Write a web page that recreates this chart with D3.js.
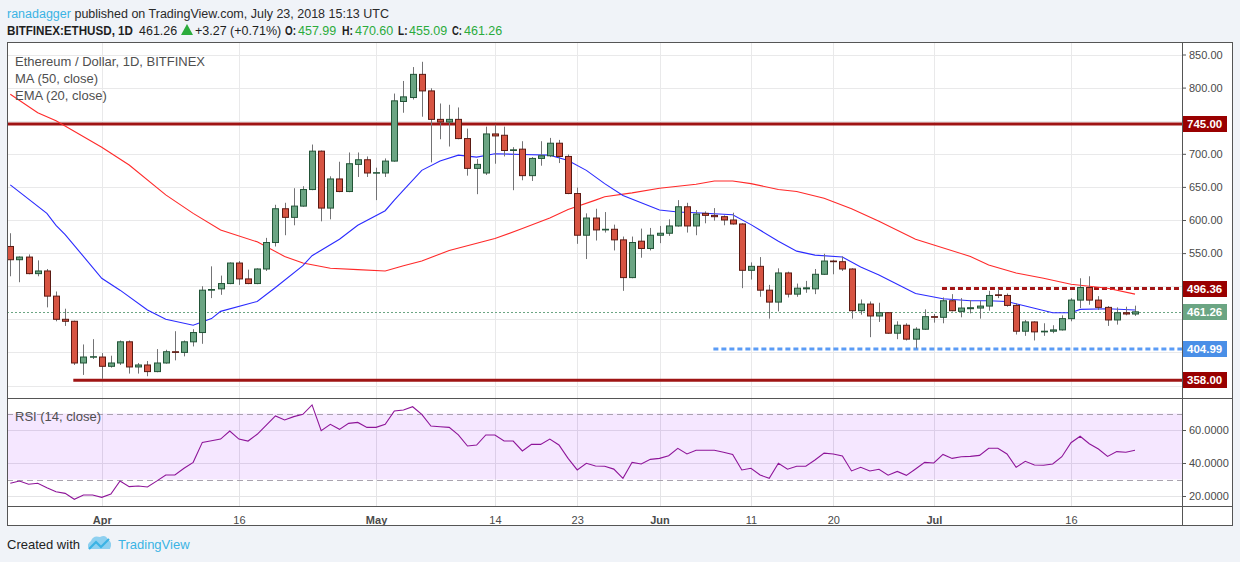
<!DOCTYPE html>
<html>
<head>
<meta charset="utf-8">
<script src="https://cdn.jsdelivr.net/npm/d3@7"></script>
<style>
body { margin: 0; background: #f0f3f8; }
svg { display: block; font-family: "Liberation Sans", Arial, sans-serif; }
</style>
</head>
<body>
<svg id="chart" width="1240" height="562"></svg>
<script>
// daily candles, BITFINEX:ETHUSD, Mar 22 - Jul 23 2018
var opens = [560,540,544,519,523,485,450,447,384,393,
  393,379,384,416,378,381,371,384,401,400,
  416,430,494,496,504,535,511,504,526,566,
  617,604,621,646,704,618,662,643,684,691,
  671,671,689,779,785,820,795,752,748,752,
  723,678,671,730,728,705,707,667,693,697,
  716,696,640,577,603,585,586,570,513,568,
  557,577,580,591,620,591,610,607,605,600,
  594,524,530,494,476,520,488,496,496,518,
  538,537,526,463,473,455,460,429,441,420,
  435,454,453,478,462,466,467,470,487,486,
  471,432,446,431,432,434,451,479,498,479,
  468,449,460,457.99];
var highs = [580,545,548,539,526,492,466,448,412,420,
  399,395,418,418,384,387,405,404,432,418,
  435,500,530,516,536,538,525,527,573,623,
  626,648,651,714,705,666,688,702,702,696,
  679,693,791,810,831,839,799,776,774,770,
  738,692,741,744,741,710,719,695,719,724,
  721,699,649,610,617,612,593,575,575,587,
  588,591,601,630,626,615,613,618,607,611,
  595,536,544,502,527,522,504,508,526,549,
  540,545,527,480,477,475,461,447,444,438,
  465,458,483,488,482,479,478,493,496,489,
  474,449,447,444,441,456,482,512,515,485,
  470,468,469,470.60];
var lows = [515,506,518,515,468,447,440,381,366,390,
  360,377,381,368,368,364,370,383,388,394,
  409,413,482,487,503,502,503,503,523,560,
  577,592,620,645,598,601,642,642,665,665,
  630,665,688,762,782,756,687,722,711,722,
  667,639,668,685,696,645,660,659,682,695,
  686,639,564,541,569,581,554,493,512,543,
  554,565,576,590,581,577,595,599,592,593,
  497,510,484,451,462,483,484,490,488,517,
  518,523,451,457,423,446,428,420,418,406,
  434,445,444,462,453,459,451,463,482,469,
  427,425,418,425,429,433,447,467,472,464,
  440,442,456,455.09];
var closes = [540,544,519,523,485,450,447,384,393,393.5,
  379,384,416,378,381,371,384,401,400,416,
  430,494,495,504,535,511,504,526,566,617,
  604,621,646,704,618,662,643,685,691,671,
  671.5,689,780,786,820,795,752,748,752,723,
  678,684,730,727,705,706,667,693,697,716,
  696,640,577,603,585,586,570,513,566,557,
  577,580,591,620,591,609,607,605,600,594,
  524,530,494,476,520,488,497,497.5,518,538,
  537,526,463,473,455,460,429,441,420,435,
  454,453,478,463,467,467.5,470,486,486,471,
  432,446,431,432,434,451,479,498,479,468,
  449,460,458,461.26];

// RSI(14) per candle
var rsi = [27.7,29.1,27.1,27.7,25,22.6,21.6,18,20.6,20.6,
  19.2,21.2,29.1,25.7,26.1,25.5,29,32.7,32.7,36.8,
  40.4,52.5,53.5,54.5,59.4,54.5,53.3,57.4,63,68.5,
  66.1,68.1,69.5,75.2,59.6,63.4,60.4,64,64.6,61.6,
  61.6,63.4,71.5,72.1,74.1,69.5,62.4,62,61.6,57,
  50.3,50.9,57,57,53.3,53.3,47.3,51.3,51.3,54.5,
  50.9,42.8,35.8,39.8,38.2,38,36.3,30.7,40.4,39.4,
  42.2,42.8,44.4,48.9,45.5,47.7,47.7,47.7,46.5,45.2,
  35.8,36.8,32.7,30.7,39.8,36.2,38,38,41.8,46,
  45.5,44.2,35.2,37.4,35.2,36.2,32.6,34.9,32.5,36.4,
  40.4,40,45.2,42.8,43.8,44,44.6,48.9,48.9,45.5,
  37.4,41,38.8,38.6,39.4,43.8,52.3,56.2,51.7,48.5,
  44,46.9,46.5,47.7];

// moving averages: [candle number, value]
var ma50 = [[1,790],[4,762],[6,750],[11,710],[14,683],[18,638],[21,610],[24,585],
  [28,567],[31,545],[33,535],[36,527],[39,525],[42,523],[44,531],[46,538],[49,554],
  [54,572],[57,587],[60,603],[62,616],[65,630],[66,635],[69,641],[72,648],[76,654],
  [78,659],[80,659],[82,655],[85,646],[87,643],[90,633],[93,617],[96,598],[100,571],
  [106,545],[108,532],[111,520],[114,512],[117,503],[121,497],[124,488]];
var ema20 = [[1,653],[5,610],[6,592],[7,578],[11,512],[13,494],[16,464],[18,450],
  [21,441],[23,451],[24,462],[28,477],[30,498],[33,531],[34,546],[37,571],[39,592],
  [42,614],[43,630],[44,645],[46,675],[48,689],[50,698],[52,695],[54,700],[57,699],
  [60,698],[62,690],[64,675],[66,655],[68,637],[72,615],[74,612],[76,611],[80,608],
  [82,593],[85,568],[87,553],[89,547],[92,544],[94,529],[96,517],[98,503],[100,489],
  [103,481],[106,478],[108,478],[110,477],[112,470],[115,460],[117,460],[118,465],
  [121,466],[124,464]];

// drawn levels: price and the candle number they start from (0 = whole width)
var solidLevels = [745, 358];
var solidStart = [0, 8];
var dashedLevels = [496.36, 404.99];
var dashedStart = [103, 78];
var lastPrice = 461.26;

var tickDays = ["2018-04-01","2018-04-16","2018-05-01","2018-05-14","2018-05-23",
  "2018-06-01","2018-06-11","2018-06-20","2018-07-01","2018-07-16"];
var tickNames = ["Apr","16","May","14","23","Jun","11","20","Jul","16"];
var priceTicks = d3.range(350, 851, 50);
var rsiTicks = [20, 40, 60];

var days = d3.utcDay.range(new Date(Date.UTC(2018,2,22)), new Date(Date.UTC(2018,6,24)));
var candles = days.map(function(d, i) {
  return {date: d, o: opens[i], h: highs[i], l: lows[i], c: closes[i]};
});

var L = 7, R = 1182, T = 42, MB = 398, RT = 399, RB = 506;

var svg = d3.select("#chart");

svg.append("rect").attr("x", L).attr("y", T).attr("width", 1233 - L).attr("height", 525 - T)
  .attr("fill", "#fff");

var x = d3.scaleUtc().domain([days[0], days[days.length - 1]]).range([10.3, 1135]);
var y = d3.scaleLinear().domain([350, 850]).range([385.5, 54.5]);
var yr = d3.scaleLinear().domain([20, 60]).range([496, 430]);

var defs = svg.append("defs");
defs.append("clipPath").attr("id", "mainClip").append("rect")
  .attr("x", L).attr("y", T).attr("width", R - L).attr("height", MB - T);
defs.append("clipPath").attr("id", "rsiClip").append("rect")
  .attr("x", L).attr("y", RT).attr("width", R - L).attr("height", RB - RT);

var main = svg.append("g").attr("clip-path", "url(#mainClip)");
var low = svg.append("g").attr("clip-path", "url(#rsiClip)");

var tickDates = tickDays.map(function(s) { return new Date(s + "T00:00:00Z"); });

// grid
main.selectAll(".hg").data(priceTicks).enter().append("line")
  .attr("x1", L).attr("x2", R)
  .attr("y1", function(d) { return Math.round(y(d)) + 0.5; })
  .attr("y2", function(d) { return Math.round(y(d)) + 0.5; })
  .attr("stroke", "#e9e9ea");
main.selectAll(".vg").data(tickDates).enter().append("line")
  .attr("x1", function(d) { return Math.round(x(d)) + 0.5; })
  .attr("x2", function(d) { return Math.round(x(d)) + 0.5; })
  .attr("y1", T).attr("y2", MB).attr("stroke", "#e9e9ea");
low.selectAll(".hg").data(rsiTicks).enter().append("line")
  .attr("x1", L).attr("x2", R)
  .attr("y1", function(d) { return Math.round(yr(d)) + 0.5; })
  .attr("y2", function(d) { return Math.round(yr(d)) + 0.5; })
  .attr("stroke", "#e4e4e6");
low.selectAll(".vg").data(tickDates).enter().append("line")
  .attr("x1", function(d) { return Math.round(x(d)) + 0.5; })
  .attr("x2", function(d) { return Math.round(x(d)) + 0.5; })
  .attr("y1", RT).attr("y2", RB).attr("stroke", "#e4e4e6");

// support / resistance
solidLevels.forEach(function(p, i) {
  var x0 = solidStart[i] ? x(days[solidStart[i] - 1]) - 1 : L;
  main.append("line").attr("x1", x0).attr("x2", R)
    .attr("y1", y(p)).attr("y2", y(p))
    .attr("stroke", "#9f1414").attr("stroke-width", 3);
});
dashedLevels.forEach(function(p, i) {
  var x0 = x(days[dashedStart[i] - 1]) - 1;
  main.append("line").attr("x1", x0).attr("x2", R)
    .attr("y1", y(p)).attr("y2", y(p))
    .attr("stroke", i === 0 ? "#a31515" : "#5b9cf6")
    .attr("stroke-width", 3).attr("stroke-dasharray", "5,3");
});
main.append("line").attr("x1", L).attr("x2", R)
  .attr("y1", Math.round(y(lastPrice)) + 0.5).attr("y2", Math.round(y(lastPrice)) + 0.5)
  .attr("stroke", "#6ba583").attr("stroke-dasharray", "2,2");

// moving averages
var avgLine = d3.line()
  .x(function(p) { return x(days[p[0] - 1]); })
  .y(function(p) { return y(p[1]); });
main.append("path").datum(ma50).attr("d", avgLine)
  .attr("fill", "none").attr("stroke", "#ff2a2a").attr("stroke-width", 1.1);
main.append("path").datum(ema20).attr("d", avgLine)
  .attr("fill", "none").attr("stroke", "#2b2bff").attr("stroke-width", 1.1);

// candles
var cg = main.selectAll(".candle").data(candles).enter().append("g");
cg.append("line")
  .attr("x1", function(d) { return Math.round(x(d.date)) + 0.5; })
  .attr("x2", function(d) { return Math.round(x(d.date)) + 0.5; })
  .attr("y1", function(d) { return y(d.h); })
  .attr("y2", function(d) { return y(d.l); })
  .attr("stroke", "#737375");
cg.append("rect")
  .attr("x", function(d) { return Math.round(x(d.date)) - 2.5; })
  .attr("width", 6)
  .attr("y", function(d) { return y(Math.max(d.o, d.c)); })
  .attr("height", function(d) { return Math.max(0.5, Math.abs(y(d.o) - y(d.c))); })
  .attr("fill", function(d) { return d.c >= d.o ? "#6ba583" : "#d75442"; })
  .attr("stroke", function(d) { return d.c >= d.o ? "#225437" : "#5b1a13"; });

// RSI pane
low.append("rect").attr("x", L).attr("width", R - L)
  .attr("y", yr(70)).attr("height", yr(30) - yr(70))
  .attr("fill", "rgba(153,21,255,0.1)");
[70, 30].forEach(function(v) {
  low.append("line").attr("x1", L).attr("x2", R)
    .attr("y1", Math.round(yr(v)) + 0.5).attr("y2", Math.round(yr(v)) + 0.5)
    .attr("stroke", "#a9a3ae").attr("stroke-dasharray", "6,4");
});
low.append("path").datum(candles)
  .attr("d", d3.line()
    .x(function(d) { return x(d.date); })
    .y(function(d, i) { return yr(rsi[i]); }))
  .attr("fill", "none").attr("stroke", "#8e1599").attr("stroke-width", 1.1);

// price labels on the axis
var tags = [
  {p: solidLevels[0], fill: "#990000"},
  {p: dashedLevels[0], fill: "#990000"},
  {p: lastPrice, fill: "#6ba583"},
  {p: dashedLevels[1], fill: "#4a8fe7"},
  {p: solidLevels[1], fill: "#990000"}
];

// price axis: ticks hidden behind a tag are left out, as on the picture
var shownTicks = priceTicks.filter(function(v) {
  return tags.every(function(t) { return Math.abs(y(v) - y(t.p)) > 11; });
});
var pa = svg.append("g").attr("transform", "translate(" + R + ",0)")
  .call(d3.axisRight(y).tickValues(shownTicks).tickFormat(d3.format(".2f")).tickSize(4).tickPadding(3));
pa.select(".domain").remove();
pa.selectAll("line").attr("stroke", "#555");
pa.selectAll("text").attr("fill", "#4a4a4a").style("font-size", "11px")
  .style("font-family", "'Liberation Sans', Arial, sans-serif");

var ra = svg.append("g").attr("transform", "translate(" + R + ",0)")
  .call(d3.axisRight(yr).tickValues(rsiTicks).tickFormat(d3.format(".4f")).tickSize(4).tickPadding(3));
ra.select(".domain").remove();
ra.selectAll("line").attr("stroke", "#555");
ra.selectAll("text").attr("fill", "#4a4a4a").style("font-size", "11px")
  .style("font-family", "'Liberation Sans', Arial, sans-serif");

tags.forEach(function(t) {
  var yy = Math.round(y(t.p));
  svg.append("rect").attr("x", R).attr("y", yy - 8).attr("width", 45).attr("height", 16)
    .attr("fill", t.fill);
  svg.append("text").attr("x", R + 5).attr("y", yy + 4)
    .attr("fill", "#fff").attr("font-size", 11.5).attr("font-weight", "bold")
    .text(d3.format(".2f")(t.p));
});

// time axis
var ta = svg.append("g").attr("transform", "translate(0," + RB + ")")
  .call(d3.axisBottom(x).tickValues(tickDates).tickSize(0).tickPadding(10)
    .tickFormat(function(d, i) { return tickNames[i]; }));
ta.select(".domain").remove();
ta.selectAll("text").attr("fill", "#4a4a4a").style("font-size", "11px")
  .style("font-family", "'Liberation Sans', Arial, sans-serif")
  .style("font-weight", function(d, i) { return isNaN(+tickNames[i]) ? "bold" : "normal"; });

// frame
var frame = "#555";
svg.append("rect").attr("x", L + 0.5).attr("y", T + 0.5).attr("width", 1232 - L).attr("height", 525 - T)
  .attr("fill", "none").attr("stroke", frame);
svg.append("line").attr("x1", R + 0.5).attr("x2", R + 0.5).attr("y1", T).attr("y2", 525).attr("stroke", frame);
svg.append("line").attr("x1", L).attr("x2", 1233).attr("y1", MB + 0.5).attr("y2", MB + 0.5).attr("stroke", frame);
svg.append("line").attr("x1", L).attr("x2", 1233).attr("y1", RB + 0.5).attr("y2", RB + 0.5).attr("stroke", frame);

// legends
var lg = svg.append("g").attr("fill", "#4f4f4f").attr("font-size", 13);
lg.append("text").attr("x", 15).attr("y", 66).text("Ethereum / Dollar, 1D, BITFINEX");
lg.append("text").attr("x", 15).attr("y", 83).text("MA (50, close)");
lg.append("text").attr("x", 15).attr("y", 100).text("EMA (20, close)");
lg.append("text").attr("x", 15).attr("y", 421).text("RSI (14, close)");

// header
var h1 = svg.append("text").attr("x", 7).attr("y", 18).attr("font-size", 12.5).attr("fill", "#2a2a2a");
h1.append("tspan").attr("fill", "#3bb3e4").text("ranadagger");
h1.append("tspan").text(" published on TradingView.com, July 23, 2018 15:13 UTC");

var green = "#2bab3c";
var h2 = [
  {x: 7, t: "BITFINEX:ETHUSD, 1D", b: true, c: "#1e1e1e", w: 126},
  {x: 139, t: "461.26", c: "#1e1e1e"},
  {x: 195, t: "+3.27 (+0.71%)", c: "#1e1e1e"},
  {x: 285, t: "O:", b: true, c: "#1e1e1e", w: 11},
  {x: 298, t: "457.99", c: green},
  {x: 342, t: "H:", b: true, c: "#1e1e1e", w: 11},
  {x: 355, t: "470.60", c: green},
  {x: 398, t: "L:", b: true, c: "#1e1e1e", w: 9.5},
  {x: 409, t: "455.09", c: green},
  {x: 452, t: "C:", b: true, c: "#1e1e1e", w: 10},
  {x: 464, t: "461.26", c: green}
];
h2.forEach(function(s) {
  var t = svg.append("text").attr("x", s.x).attr("y", 35).attr("font-size", 12.5)
    .attr("font-weight", s.b ? "bold" : "normal").attr("fill", s.c).text(s.t);
  if (s.w) t.attr("textLength", s.w).attr("lengthAdjust", "spacingAndGlyphs");
});
svg.append("path").attr("d", "M181,35 L187,24 L193,35 Z").attr("fill", green);

// footer
svg.append("text").attr("x", 7).attr("y", 549).attr("font-size", 13).attr("fill", "#222").text("Created with");
svg.append("path")
  .attr("d", "M89,549 Q86,544 91,541 Q93,535 100,537 Q106,534 108,540 Q113,542 110,549 Z")
  .attr("fill", "#8ed0f0");
svg.append("path").attr("d", "M89,549 L96,542 L101,547 L109,539")
  .attr("fill", "none").attr("stroke", "#3bb3e4").attr("stroke-width", 2.2);
svg.append("text").attr("x", 118).attr("y", 549).attr("font-size", 13).attr("fill", "#3bb3e4").text("TradingView");
</script>
</body>
</html>
